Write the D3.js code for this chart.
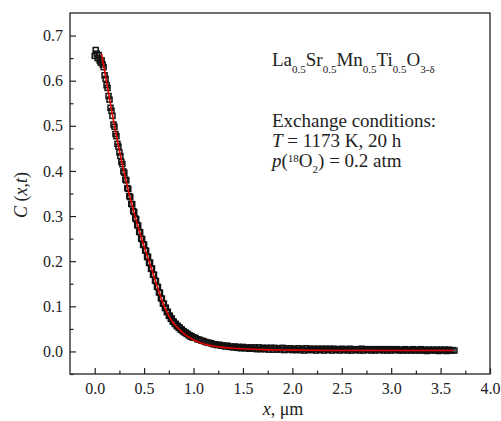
<!DOCTYPE html>
<html><head><meta charset="utf-8">
<script src="https://cdn.jsdelivr.net/npm/d3@7"></script>
<style>body{margin:0;background:#fff}svg{display:block}text{font-family:"Liberation Serif","Times New Roman",serif;fill:#222}</style>
</head><body><div id="c"></div>
<script>
const xTicks = [0.0,0.5,1.0,1.5,2.0,2.5,3.0,3.5,4.0];
const yTicks = [0.0,0.1,0.2,0.3,0.4,0.5,0.6,0.7];
const dataX = [0.00,0.01,0.02,0.03,0.04,0.05,0.06,0.07,0.08,0.09,0.10,0.11,0.12,0.13,0.14,0.15,0.16,0.17,0.18,0.19,0.20,0.21,0.22,0.23,0.24,0.25,0.26,0.27,0.28,0.29,0.30,0.31,0.32,0.33,0.34,0.35,0.36,0.37,0.38,0.39,0.40,0.41,0.42,0.43,0.44,0.45,0.46,0.47,0.48,0.49,0.50,0.51,0.52,0.53,0.54,0.55,0.56,0.57,0.58,0.59,0.60,0.61,0.62,0.63,0.64,0.65,0.66,0.67,0.68,0.69,0.70,0.71,0.72,0.73,0.74,0.75,0.76,0.77,0.78,0.79,0.80,0.81,0.82,0.83,0.84,0.85,0.86,0.87,0.88,0.89,0.90,0.91,0.92,0.93,0.94,0.95,0.96,0.97,0.98,0.99,1.00,
1.02,1.04,1.06,1.08,1.10,1.12,1.14,1.16,1.18,1.20,1.22,1.24,1.26,1.28,1.30,1.32,1.34,1.36,1.38,1.40,1.42,1.44,1.46,1.48,1.50,1.52,1.54,1.56,1.58,1.60,1.62,1.64,1.66,1.68,1.70,1.72,1.74,1.76,1.78,1.80,1.82,1.84,1.86,1.88,1.90,1.92,1.94,1.96,1.98,2.00,
2.02,2.04,2.06,2.08,2.10,2.12,2.14,2.16,2.18,2.20,2.22,2.24,2.26,2.28,2.30,2.32,2.34,2.36,2.38,2.40,2.42,2.44,2.46,2.48,2.50,2.52,2.54,2.56,2.58,2.60,2.62,2.64,2.66,2.68,2.70,2.72,2.74,2.76,2.78,2.80,2.82,2.84,2.86,2.88,2.90,2.92,2.94,2.96,2.98,3.00,3.02,3.04,3.06,3.08,3.10,3.12,3.14,3.16,3.18,3.20,3.22,3.24,3.26,3.28,3.30,3.32,3.34,3.36,3.38,3.40,3.42,3.44,3.46,3.48,3.50,3.52,3.54,3.56,3.58,3.60,3.62,3.64];
const dataC = [0.655,0.668,0.660,0.650,0.657,0.645,0.640,0.645,0.636,0.630,0.612,0.604,0.590,0.584,0.566,0.558,0.540,0.533,0.522,0.503,0.498,0.482,0.477,0.460,0.454,0.441,0.433,0.420,0.415,0.399,0.396,0.381,0.379,0.362,0.360,0.344,0.342,0.327,0.326,0.311,0.309,0.295,0.293,0.280,0.279,0.265,0.264,0.250,0.249,0.236,0.237,0.224,0.223,0.209,0.210,0.196,0.197,0.183,0.184,0.170,0.170,0.157,0.156,0.143,0.143,0.131,0.130,0.118,0.117,0.106,0.106,0.096,0.097,0.087,0.088,0.079,0.079,0.072,0.073,0.066,0.066,0.061,0.061,0.056,0.057,0.052,0.053,0.048,0.049,0.045,0.045,0.042,0.042,0.039,0.039,0.036,0.036,0.033,0.034,0.031,0.031,
0.030,0.027,0.026,0.024,0.023,0.021,0.020,0.019,0.018,0.016,0.016,0.014,0.015,0.013,0.013,0.011,0.013,0.010,0.011,0.009,0.011,0.008,0.010,0.007,0.010,0.007,0.009,0.006,0.009,0.006,0.009,0.005,0.009,0.005,0.008,0.005,0.008,0.004,0.008,0.004,0.008,0.004,0.007,0.004,0.008,0.003,0.007,0.004,0.007,0.003,
0.006,0.003,0.007,0.003,0.006,0.002,0.007,0.003,0.006,0.003,0.006,0.002,0.006,0.003,0.006,0.002,0.006,0.003,0.006,0.002,0.006,0.003,0.005,0.002,0.006,0.003,0.005,0.002,0.006,0.002,0.005,0.003,0.005,0.002,0.006,0.002,0.005,0.003,0.005,0.002,0.005,0.002,0.005,0.003,0.005,0.002,0.005,0.002,0.005,0.002,0.005,0.003,0.005,0.002,0.004,0.002,0.005,0.002,0.004,0.002,0.005,0.002,0.004,0.002,0.005,0.002,0.004,0.001,0.004,0.002,0.004,0.002,0.004,0.001,0.004,0.002,0.004,0.001,0.004,0.002,0.003,0.002];
const fitX = [0.07,0.10,0.13,0.16,0.19,0.22,0.25,0.28,0.31,0.34,0.37,0.40,0.43,0.46,0.49,0.52,0.55,0.58,0.61,0.64,0.67,0.70,0.73,0.76,0.80,0.85,0.90,0.95,1.00,1.05,1.10,1.15,1.20,1.30,1.40,1.50,1.70,2.00,2.50,3.00,3.63];
const fitC = [0.659,0.622,0.585,0.548,0.512,0.478,0.445,0.414,0.385,0.357,0.331,0.306,0.283,0.261,0.240,0.220,0.200,0.180,0.159,0.139,0.119,0.102,0.088,0.075,0.062,0.050,0.040,0.032,0.026,0.021,0.017,0.014,0.012,0.009,0.007,0.006,0.004,0.003,0.002,0.002,0.002];

const W=501,H=421, L=70,R=490,T=13,B=374;
const svg=d3.select("#c").append("svg").attr("width",W).attr("height",H);
const x=d3.scaleLinear().domain([-0.25,4.0]).range([L,R]);
const y=d3.scaleLinear().domain([-0.05,0.75]).range([B,T]);
const FF='"Liberation Serif","Times New Roman",serif';

svg.append("rect").attr("x",L).attr("y",T).attr("width",R-L).attr("height",B-T).attr("fill","none").attr("stroke","#222").attr("stroke-width",1.3);

const gx=svg.append("g").attr("transform",`translate(0,${B})`);
gx.call(d3.axisBottom(x).tickValues(xTicks).tickFormat(d3.format(".1f")).tickSize(-6).tickPadding(9));
const gxm=svg.append("g").attr("transform",`translate(0,${B})`);
gxm.call(d3.axisBottom(x).tickValues([0.25,0.75,1.25,1.75,2.25,2.75,3.25,3.75]).tickFormat("").tickSize(-3.5));
const gy=svg.append("g").attr("transform",`translate(${L},0)`);
gy.call(d3.axisLeft(y).tickValues(yTicks).tickFormat(d3.format(".1f")).tickSize(-6).tickPadding(7));
const gym=svg.append("g").attr("transform",`translate(${L},0)`);
gym.call(d3.axisLeft(y).tickValues([-0.05,0.05,0.15,0.25,0.35,0.45,0.55,0.65]).tickFormat("").tickSize(-3.5));
[gx,gxm,gy,gym].forEach(g=>g.attr("font-family",FF).attr("font-size",16));
svg.selectAll(".domain").remove();
svg.selectAll(".tick line").attr("stroke","#222").attr("stroke-width",1.2);
svg.selectAll(".tick text").attr("fill","#222");

const s=5;
svg.append("g").selectAll("rect").data(dataX.map((d,i)=>[d,dataC[i]])).join("rect")
 .attr("x",d=>x(d[0])-s/2).attr("y",d=>y(d[1])-s/2).attr("width",s).attr("height",s)
 .attr("fill","none").attr("stroke","#111").attr("stroke-width",1.5);

svg.append("path").datum(fitX.map((d,i)=>[d,fitC[i]]))
 .attr("d",d3.line().x(d=>x(d[0])).y(d=>y(d[1])).curve(d3.curveMonotoneX))
 .attr("fill","none").attr("stroke","#e00000").attr("stroke-width",1.6);

svg.append("text").attr("x",283).attr("y",415).attr("text-anchor","middle").style("font-size","18px")
 .html('<tspan font-style="italic">x</tspan>, μm');
svg.append("text").attr("transform","translate(27,195) rotate(-90)").attr("text-anchor","middle").style("font-size","18px")
 .html('<tspan font-style="italic">C</tspan> (<tspan font-style="italic">x</tspan>,<tspan font-style="italic">t</tspan>)');

const fs=19, sub=11;
const t1=svg.append("text").attr("x",272).attr("y",66).style("font-size",fs+"px");
[["La","0.5"],["Sr","0.5"],["Mn","0.5"],["Ti","0.5"],["O","3-δ"]].forEach(([a,b],i)=>{
  t1.append("tspan").text(a).attr("dy",i===0?0:-7);
  t1.append("tspan").text(b).attr("dy",7).style("font-size",sub+"px");
});
svg.append("text").attr("x",272).attr("y",127).style("font-size",fs+"px").text("Exchange conditions:");
svg.append("text").attr("x",272).attr("y",147).style("font-size",fs+"px")
 .html('<tspan font-style="italic">T</tspan> = 1173 K, 20 h');
const t4=svg.append("text").attr("x",272).attr("y",167).style("font-size",fs+"px");
t4.append("tspan").attr("font-style","italic").text("p");
t4.append("tspan").text("(");
t4.append("tspan").text("18").attr("dy",-5).style("font-size",sub+"px");
t4.append("tspan").text("O").attr("dy",5);
t4.append("tspan").text("2").attr("dy",6).style("font-size",sub+"px");
t4.append("tspan").text(") = 0.2 atm").attr("dy",-6);
</script></body></html>
